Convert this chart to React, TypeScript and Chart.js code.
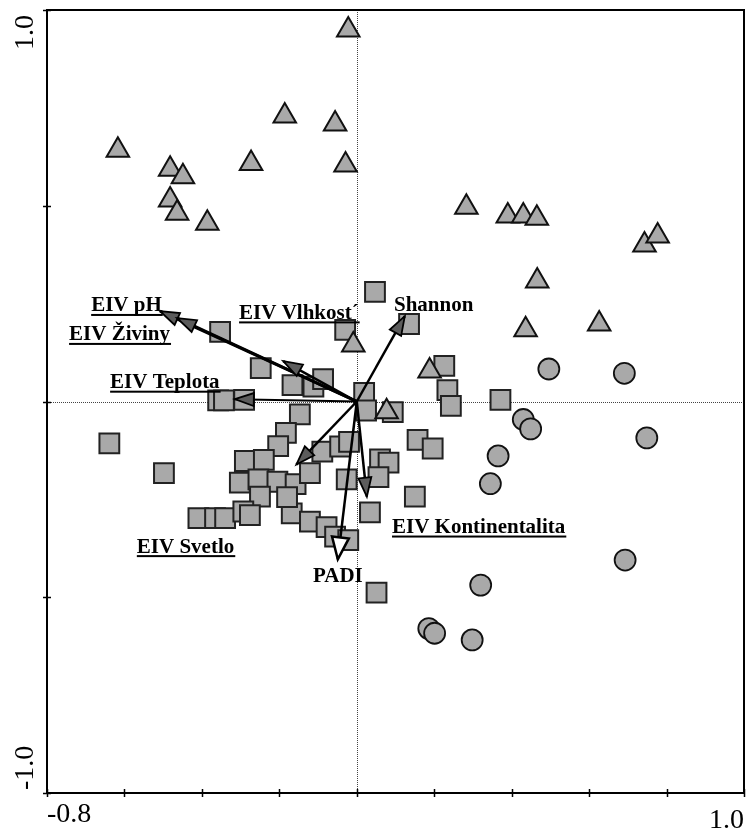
import React, { useEffect, useRef } from "react";
import { Chart, registerables } from "chart.js";

Chart.register(...registerables);

// ---- axis ticks ----
const xTickValues = [-0.8, -0.6, -0.4, -0.2, 0, 0.2, 0.4, 0.6, 0.8, 1.0];
const yTickValues = [-1.0, -0.5, 0, 0.5, 1.0];
const xEndLabels = ["-0.8", "1.0"];
const yEndLabels = ["-1.0", "1.0"];

// ---- samples (triangles) ----
const trianglePoints: [number, number][] = [
  [-0.617, 0.642], [-0.482, 0.593], [-0.449, 0.574], [-0.482, 0.515], [-0.464, 0.481],
  [-0.386, 0.455], [-0.273, 0.608], [-0.186, 0.729], [-0.056, 0.709], [-0.029, 0.604],
  [-0.022, 0.949], [0.283, 0.496], [0.390, 0.474], [0.430, 0.474], [0.465, 0.468],
  [0.743, 0.400], [0.777, 0.423], [0.466, 0.308], [0.436, 0.183], [0.626, 0.198],
  [0.188, 0.078], [-0.009, 0.144], [0.077, -0.026],
];

// ---- samples (circles) ----
const circlePoints: [number, number][] = [
  [0.496, 0.083], [0.691, 0.072], [0.430, -0.046], [0.449, -0.070], [0.749, -0.093],
  [0.365, -0.139], [0.345, -0.210], [0.320, -0.469], [0.186, -0.580], [0.201, -0.592],
  [0.298, -0.609], [0.693, -0.405],
];

// ---- samples (squares) ----
const squarePoints: [number, number][] = [
  [0.047, 0.280], [0.135, 0.198], [-0.030, 0.183], [-0.353, 0.178], [0.226, 0.091],
  [0.234, 0.029], [0.243, -0.011], [0.371, 0.004], [0.019, 0.022], [0.024, -0.023],
  [0.093, -0.027], [-0.248, 0.085], [-0.166, 0.042], [-0.112, 0.038], [-0.087, 0.057],
  [-0.358, 0.003], [-0.343, 0.003], [-0.291, 0.004], [-0.147, -0.033], [-0.183, -0.080],
  [-0.203, -0.114], [-0.639, -0.107], [-0.498, -0.183], [-0.289, -0.152], [-0.240, -0.149],
  [-0.302, -0.207], [-0.254, -0.199], [-0.205, -0.205], [-0.158, -0.211], [-0.121, -0.183],
  [-0.089, -0.128], [-0.043, -0.115], [-0.020, -0.103], [-0.026, -0.199], [-0.250, -0.243],
  [-0.409, -0.298], [-0.366, -0.298], [-0.340, -0.298], [-0.293, -0.281], [-0.276, -0.290],
  [-0.168, -0.286], [-0.121, -0.307], [-0.078, -0.321], [-0.056, -0.345], [-0.022, -0.354],
  [0.034, -0.283], [0.051, -0.488], [0.060, -0.148], [0.082, -0.156], [0.056, -0.193],
  [0.157, -0.098], [0.196, -0.120], [0.150, -0.243], [-0.180, -0.244],
];

// ---- environmental vectors ----
const arrowNames = [
  "EIV pH", "EIV Živiny", "EIV Vlhkost´", "EIV Teplota",
  "Shannon", "EIV Svetlo", "EIV Kontinentalita", "PADI",
];
const arrowX = [-0.508, -0.464, -0.190, -0.315, 0.124, -0.156, 0.026, -0.049];
const arrowY = [0.231, 0.213, 0.103, 0.006, 0.218, -0.161, -0.243, -0.403];

// ---- label layout (data units, separate from the values) ----
const labelAnchorX = [-0.686, -0.743, -0.304, -0.637, 0.096, -0.568, 0.091, -0.113];
const labelAnchorY = [0.230, 0.156, 0.211, 0.034, 0.232, -0.386, -0.336, -0.460];
const labelUnderlined = [true, true, true, true, false, true, true, false];
const shaftWidths = [3, 3, 2.5, 2, 2.5, 2.5, 2.5, 2.5];
const headFills = ["#5c5c5c", "#5c5c5c", "#5c5c5c", "#5c5c5c", "#5c5c5c", "#5c5c5c", "#5c5c5c", "#ffffff"];

const MARKER_FILL = "#a9a9a9";
const SERIF = '"Liberation Serif", "Times New Roman", serif';
const W_PX = 747;
const H_PX = 831;

const biplotPlugin = {
  id: "biplotDecor",
  beforeDatasetsDraw(chart: any) {
    const { ctx, chartArea: a, scales } = chart;
    const x0 = scales.x.getPixelForValue(0);
    const y0 = scales.y.getPixelForValue(0);
    ctx.save();
    ctx.strokeStyle = "#444";
    ctx.lineWidth = 1;
    ctx.setLineDash([1, 1]);
    ctx.beginPath();
    ctx.moveTo(a.left, Math.round(y0) + 0.5);
    ctx.lineTo(a.right, Math.round(y0) + 0.5);
    ctx.moveTo(Math.round(x0) + 0.5, a.top);
    ctx.lineTo(Math.round(x0) + 0.5, a.bottom);
    ctx.stroke();
    ctx.restore();
  },
  afterDatasetsDraw(chart: any) {
    const { ctx, chartArea: a, scales } = chart;
    const sx = scales.x, sy = scales.y;
    const ox = sx.getPixelForValue(0);
    const oy = sy.getPixelForValue(0);

    // arrow heads
    ctx.save();
    arrowNames.forEach((_, i) => {
      const tx = sx.getPixelForValue(arrowX[i]);
      const ty = sy.getPixelForValue(arrowY[i]);
      const dx = tx - ox, dy = ty - oy;
      const len = Math.hypot(dx, dy);
      const ux = dx / len, uy = dy / len;
      const isOpen = headFills[i] === "#ffffff";
      const L = isOpen ? 22 : 19;
      const W = isOpen ? 8.5 : 6.5;
      const bx = tx - ux * L, by = ty - uy * L;
      ctx.beginPath();
      ctx.moveTo(tx, ty);
      ctx.lineTo(bx - uy * W, by + ux * W);
      ctx.lineTo(bx + uy * W, by - ux * W);
      ctx.closePath();
      ctx.fillStyle = headFills[i];
      ctx.fill();
      ctx.lineWidth = isOpen ? 2.5 : 1.8;
      ctx.strokeStyle = "#000";
      ctx.lineJoin = "miter";
      ctx.stroke();
    });
    ctx.restore();

    // vector labels
    ctx.save();
    ctx.font = `bold 21px ${SERIF}`;
    ctx.fillStyle = "#000";
    ctx.textAlign = "left";
    ctx.textBaseline = "alphabetic";
    arrowNames.forEach((name, i) => {
      const lx = sx.getPixelForValue(labelAnchorX[i]);
      const ly = sy.getPixelForValue(labelAnchorY[i]);
      ctx.fillText(name, lx, ly);
      if (labelUnderlined[i]) {
        const w = ctx.measureText(name).width;
        ctx.fillRect(lx, ly + 2.5, w + 1, 2);
      }
    });
    ctx.restore();

    // frame
    ctx.save();
    ctx.strokeStyle = "#000";
    ctx.lineWidth = 2;
    ctx.strokeRect(a.left, a.top, a.right - a.left, a.bottom - a.top);

    // tick marks crossing the axes
    ctx.lineWidth = 1.5;
    ctx.beginPath();
    xTickValues.forEach((v) => {
      const px = Math.round(sx.getPixelForValue(v)) + 0.5;
      ctx.moveTo(px, a.bottom - 4);
      ctx.lineTo(px, a.bottom + 4);
    });
    yTickValues.forEach((v) => {
      const py = Math.round(sy.getPixelForValue(v)) + 0.5;
      ctx.moveTo(a.left - 4, py);
      ctx.lineTo(a.left + 4, py);
    });
    ctx.stroke();

    // end labels
    ctx.fillStyle = "#000";
    ctx.font = `28px ${SERIF}`;
    ctx.textBaseline = "alphabetic";
    ctx.textAlign = "left";
    ctx.fillText(xEndLabels[0], sx.getPixelForValue(xTickValues[0]), a.bottom + 29);
    ctx.textAlign = "right";
    ctx.fillText(xEndLabels[1], sx.getPixelForValue(xTickValues[xTickValues.length - 1]), a.bottom + 35);

    ctx.textAlign = "left";
    ctx.save();
    ctx.translate(33, sy.getPixelForValue(yTickValues[0]) - 3);
    ctx.rotate(-Math.PI / 2);
    ctx.fillText(yEndLabels[0], 0, 0);
    ctx.restore();
    ctx.save();
    ctx.translate(33, sy.getPixelForValue(yTickValues[yTickValues.length - 1]) + 5);
    ctx.rotate(-Math.PI / 2);
    ctx.textAlign = "right";
    ctx.fillText(yEndLabels[1], 0, 0);
    ctx.restore();
    ctx.restore();
  },
};

export default function App() {
  const canvasRef = useRef<HTMLCanvasElement | null>(null);

  useEffect(() => {
    if (!canvasRef.current) return;
    const toXY = (p: [number, number]) => ({ x: p[0], y: p[1] });

    const arrowSets = arrowNames.map((name, i) => ({
      type: "line" as const,
      label: name,
      data: [{ x: 0, y: 0 }, { x: arrowX[i], y: arrowY[i] }],
      showLine: true,
      borderColor: "#000",
      borderWidth: shaftWidths[i],
      pointRadius: 0,
      fill: false,
      order: 0,
    }));

    const chart = new Chart(canvasRef.current, {
      type: "scatter",
      data: {
        datasets: [
          ...arrowSets,
          {
            label: "triangles",
            data: trianglePoints.map(toXY),
            pointStyle: "triangle",
            pointRadius: 13,
            backgroundColor: MARKER_FILL,
            borderColor: "#111",
            borderWidth: 2,
            order: 1,
          },
          {
            label: "circles",
            data: circlePoints.map(toXY),
            pointStyle: "circle",
            pointRadius: 10.5,
            backgroundColor: MARKER_FILL,
            borderColor: "#111",
            borderWidth: 1.8,
            order: 2,
          },
          {
            label: "squares",
            data: squarePoints.map(toXY),
            pointStyle: "rect",
            pointRadius: 14,
            backgroundColor: MARKER_FILL,
            borderColor: "#222",
            borderWidth: 2,
            order: 3,
          },
        ] as any,
      },
      options: {
        animation: false,
        responsive: false,
        devicePixelRatio: 1,
        events: [],
        layout: {
          autoPadding: false,
          padding: { left: 47, top: 10, right: 3, bottom: 38 },
        },
        plugins: { legend: { display: false }, tooltip: { enabled: false } },
        scales: {
          x: { type: "linear", min: -0.8, max: 1.0, display: false },
          y: { type: "linear", min: -1.0, max: 1.0, display: false },
        },
      },
      plugins: [biplotPlugin],
    });
    return () => chart.destroy();
  }, []);

  return (
    <div
      style={{
        position: "fixed",
        left: 0,
        top: 0,
        width: W_PX,
        height: H_PX,
        overflow: "hidden",
        background: "#fff",
      }}
    >
      <canvas
        ref={canvasRef}
        width={W_PX}
        height={H_PX}
        style={{ display: "block", width: W_PX, height: H_PX }}
      />
    </div>
  );
}
